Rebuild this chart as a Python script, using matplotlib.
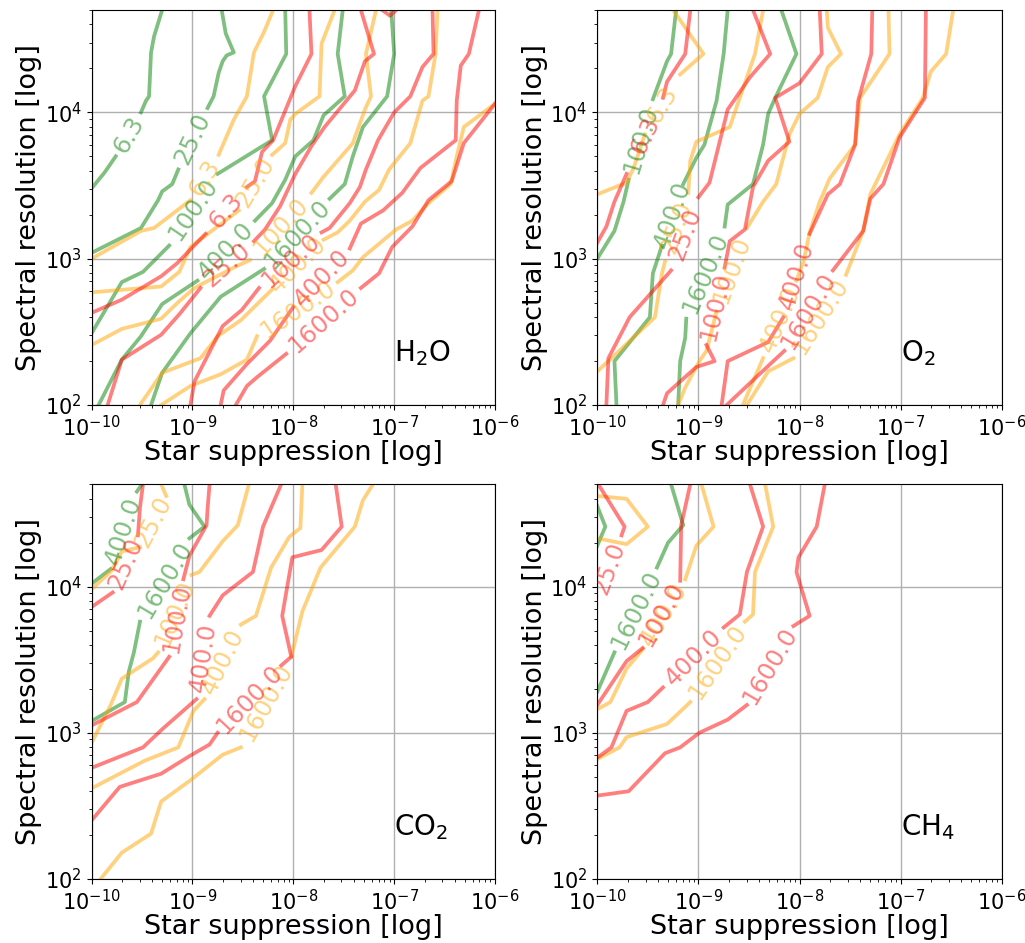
import numpy as np
import matplotlib.pyplot as plt

# contour paths in log10 units: (star suppression, spectral resolution)
# None marks the gap where the contour label sits
levels = [6.3, 25.0, 100.0, 400.0, 1600.0]

h2o_green = {
    6.3: [(-9.30, 4.70), (-9.38, 4.52), (-9.41, 4.41), (-9.43, 4.11), (-9.46, 4.08), (-9.51, 4.00), None,
          (-9.76, 3.70), (-9.87, 3.59), (-10.0, 3.48)],
    25.0: [(-8.71, 4.70), (-8.67, 4.54), (-8.59, 4.41), (-8.66, 4.39), (-8.70, 4.35), (-8.74, 4.27), (-8.79, 4.11),
           (-8.85, 4.03), None, (-9.14, 3.61), (-9.20, 3.51), (-9.30, 3.46), (-9.34, 3.40), (-9.51, 3.21), (-10.0, 3.04)],
    100.0: [(-8.08, 4.70), (-8.07, 4.40), (-8.29, 4.11), (-8.21, 3.81), (-8.75, 3.58), None,
            (-9.23, 3.09), (-9.49, 2.91), (-9.70, 2.84), (-10.0, 2.49)],
    400.0: [(-7.51, 4.70), (-7.56, 4.40), (-7.49, 4.11), (-7.70, 3.98), (-7.80, 3.81), (-7.98, 3.70), (-8.08, 3.54),
            (-8.21, 3.38), (-8.38, 3.26), None, (-8.95, 2.85), (-9.30, 2.69), (-9.51, 2.47), (-9.70, 2.31), (-9.93, 2.0)],
    1600.0: [(-7.03, 4.70), (-7.00, 4.40), (-7.07, 4.11), (-7.31, 3.90), (-7.41, 3.70), (-7.49, 3.51), (-7.64, 3.41),
             None, (-8.29, 2.93), (-8.72, 2.74), (-9.02, 2.49), (-9.30, 2.22), (-9.41, 2.0)],
}
h2o_orange = {
    6.3: [(-8.20, 4.70), (-8.29, 4.55), (-8.39, 4.41), (-8.46, 4.11), (-8.59, 3.95), (-8.74, 3.71), None,
          (-9.02, 3.40), (-9.38, 3.21), (-9.51, 3.19), (-10.0, 3.00)],
    25.0: [(-7.59, 4.70), (-7.72, 4.47), (-7.74, 4.11), (-7.98, 3.99), (-8.03, 3.95), (-8.08, 3.79), (-8.21, 3.71),
           None, (-8.54, 3.33), (-9.02, 3.08), (-9.13, 2.91), (-9.31, 2.81), (-10.0, 2.77)],
    100.0: [(-7.18, 4.70), (-7.28, 4.40), (-7.23, 4.11), (-7.29, 4.02), (-7.41, 3.79), (-7.70, 3.56), (-7.82, 3.45),
            None, (-8.43, 2.99), (-8.56, 2.95), (-8.87, 2.84), (-8.98, 2.80), (-9.13, 2.71), (-9.31, 2.59),
            (-9.70, 2.52), (-10.0, 2.41)],
    400.0: [(-6.57, 4.70), (-6.59, 4.40), (-6.66, 4.11), (-6.72, 4.08), (-6.84, 3.79), (-7.05, 3.61), (-7.15, 3.47),
            (-7.29, 3.39), (-7.44, 3.26), (-7.56, 3.18), (-7.70, 3.13), None, (-8.21, 2.79), (-8.52, 2.58),
            (-8.75, 2.47), (-8.92, 2.32), (-9.30, 2.22), (-9.52, 2.0)],
    1600.0: [(-6.0, 4.06), (-6.31, 3.90), (-6.38, 3.70), (-6.44, 3.51), (-6.66, 3.38), (-6.82, 3.26), (-6.98, 3.20),
             (-7.31, 3.01), (-7.41, 2.92), (-7.56, 2.84), None, (-8.36, 2.47), (-8.46, 2.31), (-8.72, 2.21),
             (-9.02, 2.13), (-9.31, 2.0)],
}
h2o_red = {
    6.3: [(-7.84, 4.70), (-7.82, 4.40), (-7.98, 4.18), (-8.20, 3.81), (-8.31, 3.73), (-8.38, 3.53), (-8.46, 3.49),
          None, (-8.87, 3.17), (-9.15, 2.97), (-9.31, 2.88), (-9.70, 2.72), (-10.0, 2.63)],
    25.0: [(-7.33, 4.70), (-7.20, 4.40), (-7.29, 4.35), (-7.39, 4.15), (-7.69, 3.90), (-7.82, 3.77), (-7.98, 3.58),
           (-8.13, 3.36), (-8.28, 3.20), (-8.39, 3.12), None, (-8.92, 2.80), (-9.13, 2.62), (-9.31, 2.48),
           (-9.70, 2.31), (-9.84, 2.0)],
    100.0: [(-6.62, 4.70), (-6.61, 4.40), (-6.72, 4.31), (-6.84, 4.11), (-7.00, 4.00), (-7.16, 3.81), (-7.28, 3.61),
            (-7.34, 3.49), (-7.44, 3.38), (-7.64, 3.21), (-7.72, 3.18), None, (-8.34, 2.80), (-8.51, 2.65),
            (-8.70, 2.54), (-8.98, 2.16), (-9.02, 2.0)],
    400.0: [(-6.16, 4.70), (-6.26, 4.40), (-6.34, 4.32), (-6.38, 4.08), (-6.39, 3.81), (-6.74, 3.62), (-6.92, 3.45),
            (-7.11, 3.33), (-7.33, 3.24), (-7.44, 3.07), None, (-8.00, 2.67), (-8.23, 2.44), (-8.46, 2.28),
            (-8.69, 2.10), (-8.72, 2.0)],
    1600.0: [(-6.0, 4.06), (-6.31, 3.79), (-6.43, 3.53), (-6.66, 3.40), (-6.82, 3.22), (-7.02, 3.08), (-7.15, 2.90),
             (-7.33, 2.80), None, (-8.07, 2.35), (-8.36, 2.19), (-8.46, 2.13), (-8.57, 2.0)],
    'top': [(-7.16, 4.72), (-7.04, 4.66), (-6.95, 4.72)],
}

o2_green = {
    100.0: [(-9.22, 4.70), (-9.27, 4.40), (-9.31, 4.35), (-9.45, 4.09), None,
            (-9.69, 3.54), (-9.74, 3.39), (-9.83, 3.19), (-10.0, 3.00)],
    400.0: [(-8.71, 4.70), (-8.75, 4.40), (-8.82, 4.08), (-8.94, 3.78), (-9.02, 3.69), (-9.15, 3.51), None,
            (-9.36, 3.09), (-9.45, 2.90), (-9.48, 2.60), (-9.83, 2.30), (-9.81, 2.0)],
    1600.0: [(-8.18, 4.70), (-8.03, 4.40), (-8.24, 4.10), (-8.31, 3.99), (-8.36, 3.78), (-8.46, 3.51), (-8.71, 3.37),
             (-8.74, 3.22), None, (-9.12, 2.59), (-9.13, 2.46), (-9.18, 2.30), (-9.20, 2.0)],
}
o2_orange = {
    6.3: [(-9.25, 4.70), (-8.95, 4.40), (-9.18, 4.26), None, (-9.53, 3.85), (-9.64, 3.62), (-9.71, 3.52),
          (-10.0, 3.44)],
    25.0: [(-8.36, 4.70), (-8.44, 4.40), (-8.69, 3.90), (-9.02, 3.80), (-9.08, 3.67), (-9.10, 3.45), None,
           (-9.33, 2.98), (-9.36, 2.90), (-9.43, 2.60), (-9.89, 2.30), (-10.0, 2.23)],
    100.0: [(-7.73, 4.70), (-7.72, 4.58), (-7.59, 4.40), (-7.72, 4.31), (-7.82, 4.10), (-8.00, 3.99), (-8.10, 3.85),
            (-8.23, 3.51), (-8.36, 3.39), (-8.52, 3.21), None, (-8.82, 2.64), (-8.92, 2.37), (-8.99, 2.30),
            (-9.13, 2.12), (-9.20, 2.0)],
    400.0: [(-7.12, 4.70), (-7.11, 4.40), (-7.40, 4.10), (-7.45, 3.78), (-7.70, 3.55), (-7.80, 3.39), (-7.90, 3.18),
            (-7.96, 2.98), (-8.03, 2.85), None, (-8.36, 2.32), (-8.56, 2.0)],
    1600.0: [(-6.48, 4.70), (-6.55, 4.40), (-6.70, 4.28), (-6.78, 4.10), (-7.01, 3.85), (-7.30, 3.44), (-7.37, 3.19),
             (-7.54, 2.89), None, (-8.06, 2.32), (-8.31, 2.23), (-8.52, 2.0)],
}
o2_red = {
    6.3: [(-9.08, 4.70), (-9.13, 4.40), (-9.31, 4.21), (-9.35, 4.10), None,
          (-9.71, 3.58), (-9.83, 3.39), (-9.91, 3.22), (-10.0, 3.11)],
    25.0: [(-8.46, 4.70), (-8.29, 4.40), (-8.49, 4.24), (-8.71, 4.02), (-8.89, 3.52), (-9.00, 3.42), None,
           (-9.27, 2.92), (-9.68, 2.60), (-9.89, 2.32), (-9.91, 2.0)],
    100.0: [(-7.80, 4.70), (-7.78, 4.40), (-8.00, 4.20), (-8.24, 4.10), (-8.10, 3.80), (-8.31, 3.67), (-8.46, 3.49),
            (-8.54, 3.20), (-8.69, 3.12), (-8.74, 2.94), None, (-8.92, 2.41), (-8.84, 2.30), (-9.02, 2.26),
            (-9.31, 2.08), (-9.35, 2.0)],
    400.0: [(-7.28, 4.70), (-7.29, 4.40), (-7.42, 4.08), (-7.45, 3.78), (-7.60, 3.51), (-7.72, 3.44), (-7.90, 3.17),
            None, (-8.16, 2.60), (-8.31, 2.43), (-8.71, 2.30), (-8.77, 2.0)],
    1600.0: [(-6.75, 4.70), (-6.76, 4.10), (-7.01, 3.83), (-7.17, 3.51), (-7.30, 3.41), (-7.37, 3.19), (-7.67, 2.92),
             None, (-8.15, 2.37), (-8.29, 2.28), (-8.72, 2.0)],
}

co2_green = {
    400.0: [(-9.50, 4.70), (-9.55, 4.65), None, (-9.81, 4.12), (-10.0, 4.02)],
    1600.0: [(-9.08, 4.70), (-9.03, 4.56), (-8.88, 4.41), (-9.03, 4.33), None,
             (-9.52, 3.76), (-9.58, 3.55), (-9.63, 3.42), (-9.67, 3.21), (-10.0, 3.08)],
}
co2_orange = {
    25.0: [(-9.31, 4.70), (-9.26, 4.62), None, (-9.52, 4.27), (-9.70, 4.24), (-9.80, 4.11), (-10.0, 3.98)],
    100.0: [(-8.44, 4.70), (-8.55, 4.42), (-8.70, 4.31), (-8.93, 4.10), (-9.01, 4.08), None,
            (-9.34, 3.55), (-9.39, 3.51), (-9.70, 3.37), (-9.81, 3.19), (-10.0, 2.93)],
    400.0: [(-7.91, 4.70), (-7.93, 4.40), (-8.04, 4.34), (-8.22, 4.13), (-8.37, 3.80), (-8.52, 3.74), None,
            (-8.88, 3.23), (-8.99, 3.15), (-9.14, 2.90), (-9.47, 2.81), (-10.0, 2.62)],
    1600.0: [(-7.21, 4.70), (-7.31, 4.59), (-7.39, 4.41), (-7.73, 4.13), (-7.91, 3.83), (-8.02, 3.52), None,
             (-8.52, 2.90), (-8.70, 2.85), (-9.03, 2.67), (-9.31, 2.53), (-9.41, 2.31), (-9.70, 2.18), (-9.91, 2.0)],
}
co2_red = {
    25.0: [(-9.49, 4.70), (-9.52, 4.54), (-9.54, 4.35), None, (-9.79, 3.96), (-10.0, 3.86)],
    100.0: [(-8.83, 4.70), (-8.85, 4.53), (-8.86, 4.42), (-9.03, 4.21), (-9.09, 4.05), None,
            (-9.23, 3.52), (-9.55, 3.21), (-9.72, 3.15), (-10.0, 3.05)],
    400.0: [(-8.12, 4.70), (-8.30, 4.41), (-8.40, 4.10), (-8.70, 3.94), (-8.83, 3.80), None,
            (-8.96, 3.23), (-9.29, 3.03), (-9.49, 2.90), (-10.0, 2.76)],
    1600.0: [(-7.58, 4.70), (-7.52, 4.41), (-7.72, 4.25), (-8.01, 4.20), (-8.11, 3.80), (-8.02, 3.52), (-8.12, 3.46),
             None, (-8.75, 3.00), (-8.83, 2.92), (-9.03, 2.84), (-9.31, 2.72), (-9.72, 2.63), (-10.0, 2.40)],
}

ch4_green = {
    400.0: [(-10.0, 4.55), (-9.92, 4.41), (-10.0, 4.28)],
    1600.0: [(-9.27, 4.70), (-9.15, 4.42), (-9.30, 4.30), (-9.41, 4.13), None, (-9.83, 3.55), (-10.0, 3.28)],
}
ch4_orange = {
    100.0: [(-10.0, 4.62), (-9.71, 4.60), (-9.50, 4.41), (-9.71, 4.29), (-10.0, 4.33)],
    400.0: [(-8.97, 4.70), (-8.85, 4.41), (-9.02, 4.28), (-9.13, 4.05), None,
            (-9.55, 3.57), (-9.71, 3.44), (-9.87, 3.21), (-10.0, 3.16)],
    1600.0: [(-8.34, 4.70), (-8.26, 4.41), (-8.44, 4.10), (-8.46, 3.81), (-8.54, 3.76), None,
             (-9.08, 3.21), (-9.31, 3.06), (-9.71, 2.97), (-9.78, 2.90), (-10.0, 2.82)],
}
ch4_red = {
    25.0: [(-9.99, 4.70), (-9.73, 4.41), (-9.76, 4.35), None, (-10.0, 3.90)],
    100.0: [(-9.08, 4.70), (-9.17, 4.42), (-9.18, 4.04), None, (-9.55, 3.58), (-9.71, 3.49), (-10.0, 3.19)],
    400.0: [(-8.49, 4.70), (-8.36, 4.41), (-8.52, 4.10), (-8.59, 3.81), (-8.75, 3.72), None,
            (-9.35, 3.31), (-9.50, 3.21), (-9.71, 3.15), (-9.86, 2.90), (-10.0, 2.83)],
    1600.0: [(-7.75, 4.70), (-7.83, 4.41), (-8.01, 4.20), (-8.03, 4.10), (-7.90, 3.80), (-8.06, 3.73), None,
             (-8.52, 3.19), (-8.71, 3.09), (-8.99, 3.00), (-9.18, 2.90), (-9.33, 2.86), (-9.69, 2.60), (-10.0, 2.57)],
}

molecules = [r'H$_2$O', r'O$_2$', r'CO$_2$', r'CH$_4$']
panels = [(h2o_green, h2o_orange, h2o_red), (o2_green, o2_orange, o2_red),
          (co2_green, co2_orange, co2_red), (ch4_green, ch4_orange, ch4_red)]
line_colors = ['green', 'orange', 'red']


def draw_contours(ax, paths, color):
    for lev, pts in paths.items():
        seg = []
        for p in pts + [None]:
            if p is None:
                if len(seg) > 1:
                    xs, ys = np.array(seg).T
                    ax.plot(10 ** xs, 10 ** ys, color=color, alpha=0.5, lw=2.7)
                seg = []
            else:
                seg.append(p)
        for i, p in enumerate(pts):
            if p is not None:
                continue
            a, b = pts[i - 1], pts[i + 1]
            pa = ax.transData.transform((10 ** a[0], 10 ** a[1]))
            pb = ax.transData.transform((10 ** b[0], 10 ** b[1]))
            ang = np.degrees(np.arctan2(pb[1] - pa[1], pb[0] - pa[0]))
            if ang > 90:
                ang -= 180
            elif ang <= -90:
                ang += 180
            x, y = ax.transData.inverted().transform((pa + pb) / 2)
            ax.text(x, y, f'{lev:.1f}', rotation=ang, rotation_mode='anchor', ha='center', va='center',
                    color=color, alpha=0.5, fontsize=17.5, clip_on=True)


fig = plt.figure(figsize=(10.25, 9.43), dpi=100)
positions = [[0.0893, 0.5705, 0.3937, 0.4189], [0.5827, 0.5705, 0.3946, 0.4189],
             [0.0893, 0.0679, 0.3937, 0.4186], [0.5827, 0.0679, 0.3946, 0.4186]]

for pos, name, group in zip(positions, molecules, panels):
    ax = fig.add_axes(pos)
    ax.set_xscale('log')
    ax.set_yscale('log')
    ax.set_xlim(1e-10, 1e-6)
    ax.set_ylim(1e2, 10 ** 4.7)
    ax.grid(True, which='major', color='#b0b0b0', lw=1.0)
    ax.set_axisbelow(True)
    ax.tick_params(labelsize=15)
    ax.set_xlabel('Star suppression [log]', fontsize=19.5, labelpad=0)
    ax.set_ylabel('Spectral resolution [log]', fontsize=19.5, labelpad=2)
    for paths, c in zip(group, line_colors):
        draw_contours(ax, paths, c)
    ax.text(1e-7, 2e2, name, fontsize=20, ha='left', va='baseline')

plt.savefig('out.png', dpi=100)
